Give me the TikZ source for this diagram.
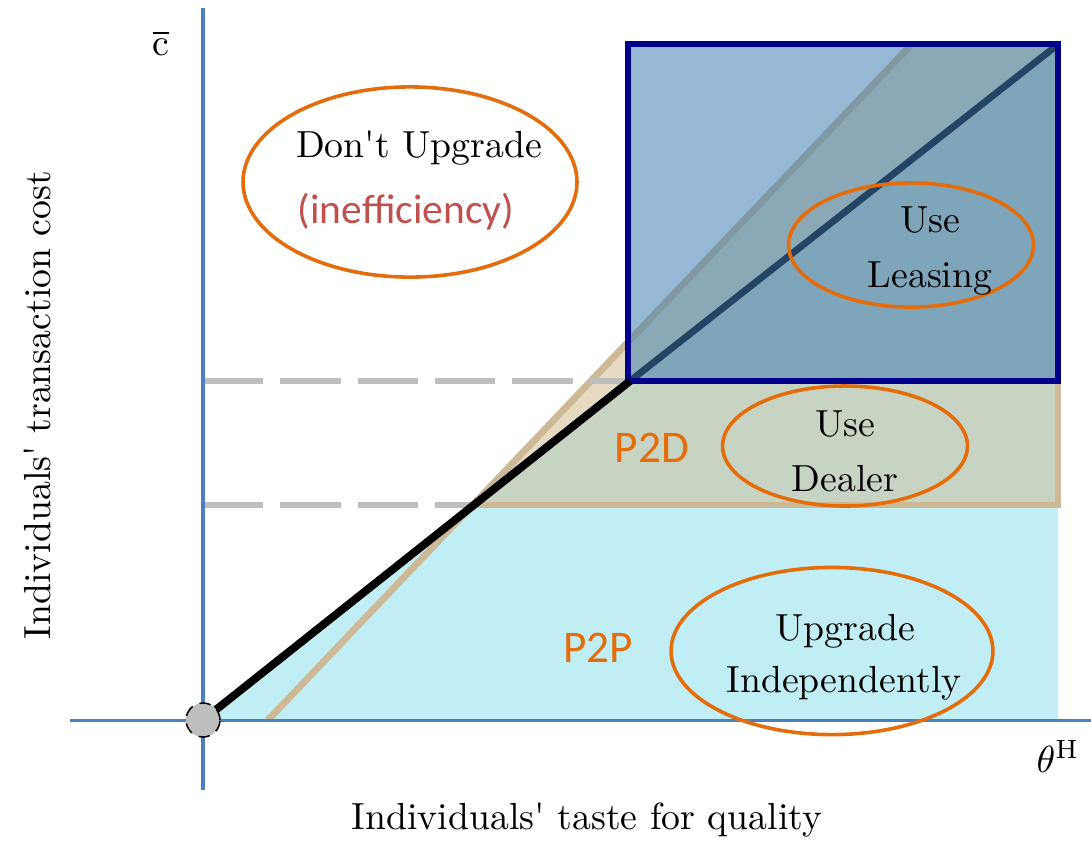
\documentclass[tikz,border=0pt]{standalone}
\usepackage{fontspec}
\usepackage{amsmath,amssymb}
\usetikzlibrary{shapes.geometric}
\newfontfamily\calibri{Carlito}
\definecolor{orng}{RGB}{228,108,10}
\definecolor{ineffred}{RGB}{192,80,77}
\definecolor{p2pcyan}{RGB}{193,238,244}
\definecolor{p2dgreen}{RGB}{200,212,195}
\definecolor{tanc}{RGB}{205,185,150}
\definecolor{beigec}{RGB}{230,218,195}
\definecolor{gridgray}{RGB}{190,190,190}
\definecolor{leaseA}{RGB}{150,184,212}
\definecolor{leaseB}{RGB}{139,168,183}
\definecolor{leaseC}{RGB}{127,165,186}
\definecolor{tanin}{RGB}{128,152,162}
\definecolor{diagc}{RGB}{35,68,98}
\definecolor{navyc}{RGB}{0,0,140}
\definecolor{axisblue}{RGB}{74,128,190}

\begin{document}
\begin{tikzpicture}[x=.265pt,y=-.265pt,
  every node/.style={inner sep=0pt,anchor=base},
  oval/.style={ellipse,draw=orng,line width=.95pt,anchor=center},
  tag/.style={text=orng,font=\calibri\fontsize{12}{14}\selectfont},
  axis/.style={draw=axisblue,line width=.8pt},
  gridline/.style={draw=gridgray,line width=1.6pt,dash pattern=on 16pt off 4.5pt},
  tanline/.style={draw=tanc,line width=1.8pt}]
  \useasboundingbox (0,0) rectangle (1091,840);
  \coordinate (O) at (203,720);
  \coordinate (kink) at (630,381);
  \coordinate (low) at (473,505);

  % regions
  \fill[p2pcyan] (O) -- (low) -- (1058,505) -- (1058,720) -- cycle;
  \fill[p2dgreen] (low) -- (kink) -- (1058,381) -- (1058,505) -- cycle;
  \fill[beigec] (low) -- (628,342) -- (628,381) -- cycle;
  \draw[tanline] (268,720) -- (628,342);
  \draw[tanline] (low) -- (1058,505) -- (1058,381);
  \draw[gridline] (203,381) -- (628,381);
  \draw[gridline] (203,505) -- (low);

  \fill[leaseA] (628,44) rectangle (1058,381);
  \fill[leaseB] (628,381) -- (628,342) -- (912,44) -- (1058,44) -- cycle;
  \fill[leaseC] (kink) -- (1058,44) -- (1058,381) -- cycle;
  \draw[draw=tanin,line width=1.8pt] (628,342) -- (912,44);
  \draw[draw=diagc,line width=1.8pt] (kink) -- (1056,46);
  \draw[draw=navyc,line width=1.7pt] (628,44) rectangle (1058,381);
  \draw[line width=2.1pt] (O) -- (kink);

  % axes
  \draw[axis] (203,8) -- (203,790);
  \draw[axis] (70,720) -- (1091,720);
  \node[circle,fill=gridgray,draw,densely dashed,line width=.4pt,
    minimum size=9pt,anchor=center] (orig) at (O) {};
  \node (cbar) at (161,55) {$\overline{\mathrm{c}}$};
  \node (thetaH) at (1058,772) {$\theta^{\mathrm{H}}$};
  \node (xlab) at (587,829) {Individuals\textquotesingle\ taste for quality};
  \node[rotate=90] (ylab) at (50,405) {Individuals\textquotesingle\ transaction cost};

  % labels
  \node[oval,minimum width=88.5pt,minimum height=50.4pt] (noupOval) at (410,182) {};
  \node (noup) at (419,157) {Don\textquotesingle t Upgrade};
  \node[text=ineffred,font=\calibri\fontsize{11}{13}\selectfont] (ineff)
    at (406,223) {(inefficiency)};

  \node[oval,minimum width=64.9pt,minimum height=32.9pt] (leaseOval) at (911,245) {};
  \node (useL) at (930,232) {Use};
  \node (lease) at (930,287) {Leasing};

  \node[oval,minimum width=64.9pt,minimum height=31.8pt] (dealOval) at (845,446) {};
  \node (useD) at (845,436) {Use};
  \node (deal) at (845,491) {Dealer};

  \node[oval,minimum width=85.3pt,minimum height=44.3pt] (indOval) at (832,651) {};
  \node (upg) at (845,640) {Upgrade};
  \node (indep) at (844,692) {Independently};

  \node[tag] (p2d) at (652,462) {P2D};
  \node[tag] (p2p) at (598,662) {P2P};
\end{tikzpicture}
\end{document}
